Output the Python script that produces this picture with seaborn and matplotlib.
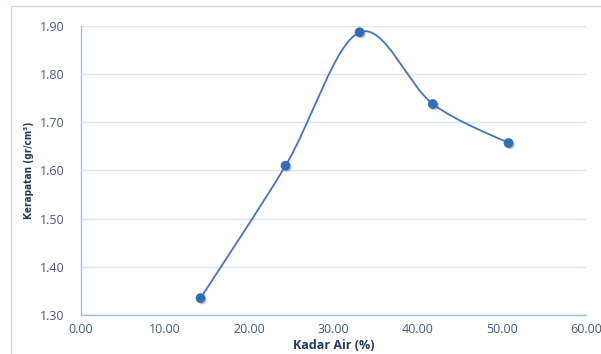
import numpy as np
import pandas as pd
import matplotlib
matplotlib.use("Agg")
import matplotlib.pyplot as plt
import matplotlib.patheffects as pe
from matplotlib.path import Path
from matplotlib.patches import PathPatch, Rectangle
import seaborn as sns

# Water content (%) vs. density (gr/cm3)
kadar_air = [14.2, 24.3, 33.1, 41.8, 50.8]
kerapatan = [1.335, 1.61, 1.887, 1.738, 1.657]
x_ticks = [0, 10, 20, 30, 40, 50, 60]
y_ticks = [1.30, 1.40, 1.50, 1.60, 1.70, 1.80, 1.90]

df = pd.DataFrame({"kadar_air": kadar_air, "kerapatan": kerapatan})

sns.set_theme(style="white")
plt.rcParams["font.family"] = ["Open Sans", "DejaVu Sans"]

line_col = "#4472C4"
marker_col = "#2F6DB5"
grid_col = "#D9E5F5"
axis_col = "#9CC0E8"
tick_col = "#4A5A78"
label_col = "#1F3864"

fig = plt.figure(figsize=(6.01, 3.54), dpi=100)
W, H = 601, 354
ax = fig.add_axes([81 / W, (H - 315) / H, (586 - 81) / W, (315 - 26) / H])

# chart frame
fig.patches.append(Rectangle((11 / W, -0.2), 1.2, 1.2 - 6 / H,
                             transform=fig.transFigure, fill=False,
                             edgecolor="#C5D9F1", linewidth=1.0))

# smoothed connecting line (Catmull-Rom style cubic Bezier)
pts = np.column_stack([kadar_air, kerapatan])
verts = [tuple(pts[0])]
codes = [Path.MOVETO]
n = len(pts)
for i in range(n - 1):
    p0 = pts[max(i - 1, 0)]
    p1 = pts[i]
    p2 = pts[i + 1]
    p3 = pts[min(i + 2, n - 1)]
    c1 = p1 + (p2 - p0) / 6.0
    c2 = p2 - (p3 - p1) / 6.0
    verts += [tuple(c1), tuple(c2), tuple(p2)]
    codes += [Path.CURVE4] * 3
ax.add_patch(PathPatch(Path(verts, codes), facecolor="none",
                       edgecolor=line_col, linewidth=1.3, zorder=3))

sns.scatterplot(data=df, x="kadar_air", y="kerapatan", ax=ax, s=42,
                color=marker_col, edgecolor=marker_col, linewidth=0.5,
                zorder=4, legend=False)
for coll in ax.collections:
    coll.set_path_effects([pe.SimplePatchShadow(offset=(1.2, -1.2),
                                                alpha=0.35, shadow_rgbFace="#555555"),
                           pe.Normal()])

ax.set_xlim(0, 60)
ax.set_ylim(1.30, 1.90)
ax.set_xticks(x_ticks)
ax.set_yticks(y_ticks)
ax.set_xticklabels([f"{v:.2f}" for v in x_ticks])
ax.set_yticklabels([f"{v:.2f}" for v in y_ticks])
ax.tick_params(axis="both", length=0, labelsize=9, labelcolor=tick_col)
ax.tick_params(axis="y", pad=12)
ax.tick_params(axis="x", pad=6)

ax.yaxis.grid(True, color=grid_col, linewidth=1.0)
ax.xaxis.grid(False)
ax.set_axisbelow(True)
for s in ["top", "right"]:
    ax.spines[s].set_visible(False)
for s in ["left", "bottom"]:
    ax.spines[s].set_color(axis_col)
    ax.spines[s].set_linewidth(1.0)

ax.set_xlabel("Kadar Air (%)", fontsize=9, fontweight="bold", color=label_col, labelpad=2)
ax.set_ylabel("Kerapatan (gr/cm³)", fontsize=7.2, fontweight="bold", color=label_col,
              labelpad=4, family=["DejaVu Sans"], fontstretch="condensed")

fig.savefig("out.png", dpi=100)
